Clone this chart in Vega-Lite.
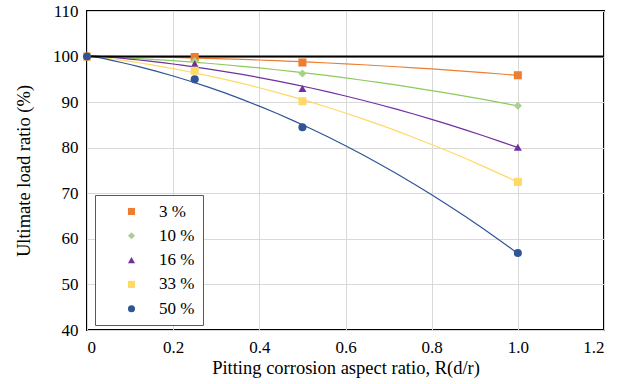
{
  "$schema": "https://vega.github.io/schema/vega-lite/v6.json",
  "width": 517,
  "height": 319,
  "autosize": "none",
  "padding": {"left": 87, "top": 11, "right": 20, "bottom": 54},
  "background": "white",
  "config": {
    "font": "Liberation Serif",
    "view": {"stroke": "#000000", "strokeWidth": 2},
    "axis": {
      "labelFontSize": 17,
      "labelColor": "#000000",
      "titleFontSize": 18.5,
      "titleFontWeight": "normal",
      "titleColor": "#000000",
      "domain": false,
      "ticks": false,
      "gridColor": "#d9d9d9",
      "gridWidth": 1
    }
  },
  "data": {
    "values": [
      {"series": "3 %", "aspect": 0, "ratio": 100},
      {"series": "3 %", "aspect": 0.25, "ratio": 99.9},
      {"series": "3 %", "aspect": 0.5, "ratio": 98.7},
      {"series": "3 %", "aspect": 1.0, "ratio": 95.9},
      {"series": "10 %", "aspect": 0, "ratio": 100},
      {"series": "10 %", "aspect": 0.25, "ratio": 99.0},
      {"series": "10 %", "aspect": 0.5, "ratio": 96.3},
      {"series": "10 %", "aspect": 1.0, "ratio": 89.2},
      {"series": "16 %", "aspect": 0, "ratio": 100},
      {"series": "16 %", "aspect": 0.25, "ratio": 98.4},
      {"series": "16 %", "aspect": 0.5, "ratio": 93.0},
      {"series": "16 %", "aspect": 1.0, "ratio": 80.1},
      {"series": "33 %", "aspect": 0, "ratio": 100},
      {"series": "33 %", "aspect": 0.25, "ratio": 96.9},
      {"series": "33 %", "aspect": 0.5, "ratio": 90.2},
      {"series": "33 %", "aspect": 1.0, "ratio": 72.5},
      {"series": "50 %", "aspect": 0, "ratio": 100},
      {"series": "50 %", "aspect": 0.25, "ratio": 95.0},
      {"series": "50 %", "aspect": 0.5, "ratio": 84.5},
      {"series": "50 %", "aspect": 1.0, "ratio": 56.9}
    ]
  },
  "layer": [
    {
      "transform": [
        {"regression": "ratio", "on": "aspect", "groupby": ["series"], "method": "poly", "order": 2}
      ],
      "mark": {"type": "line", "strokeWidth": 1.2},
      "encoding": {
        "x": {"field": "aspect", "type": "quantitative"},
        "y": {"field": "ratio", "type": "quantitative"},
        "stroke": {
          "field": "series",
          "type": "nominal",
          "legend": null,
          "scale": {
            "domain": ["10 %", "16 %", "3 %", "33 %", "50 %"],
            "range": ["#8CCB5A", "#7030A0", "#ED7D31", "#FFD966", "#2F5597"]
          }
        }
      }
    },
    {
      "data": {"values": [{"level": 100}]},
      "mark": {"type": "rule", "color": "#000000", "strokeWidth": 2},
      "encoding": {
        "y": {"field": "level", "type": "quantitative"}
      }
    },
    {
      "mark": {"type": "point", "filled": true, "opacity": 1, "size": 65},
      "encoding": {
        "x": {
          "field": "aspect",
          "type": "quantitative",
          "scale": {"domain": [0, 1.2], "nice": false, "zero": false},
          "axis": {
            "title": "Pitting corrosion aspect ratio, R(d/r)",
            "values": [0, 0.2, 0.4, 0.6, 0.8, 1.0, 1.2],
            "labelExpr": "datum.value == 0 ? '0' : format(datum.value, '.1f')",
            "labelPadding": 9,
            "titlePadding": 3
          }
        },
        "y": {
          "field": "ratio",
          "type": "quantitative",
          "scale": {"domain": [40, 110], "nice": false, "zero": false},
          "axis": {
            "title": "Ultimate load ratio (%)",
            "values": [40, 50, 60, 70, 80, 90, 100, 110],
            "labelPadding": 9,
            "titlePadding": 19
          }
        },
        "color": {
          "field": "series",
          "type": "nominal",
          "scale": {
            "domain": ["3 %", "10 %", "16 %", "33 %", "50 %"],
            "range": ["#ED7D31", "#A9D18E", "#7030A0", "#FFD966", "#2F5597"]
          },
          "legend": {
            "title": null,
            "orient": "none",
            "legendX": 8,
            "legendY": 184,
            "padding": 8,
            "rowPadding": 6.3,
            "fillColor": "#ffffff",
            "strokeColor": "#595959",
            "symbolSize": 50,
            "symbolOffset": 20,
            "labelOffset": 19,
            "labelFontSize": 17,
            "labelColor": "#000000",
            "labelExpr": "datum.label + '\u00a0\u00a0\u00a0\u00a0\u00a0\u00a0\u00a0\u00a0\u00a0'"
          }
        },
        "shape": {
          "field": "series",
          "type": "nominal",
          "scale": {
            "domain": ["3 %", "10 %", "16 %", "33 %", "50 %"],
            "range": ["square", "diamond", "triangle-up", "square", "circle"]
          },
          "legend": {
            "title": null,
            "orient": "none",
            "legendX": 8,
            "legendY": 184,
            "padding": 8,
            "rowPadding": 6.3,
            "fillColor": "#ffffff",
            "strokeColor": "#595959",
            "symbolSize": 50,
            "symbolOffset": 20,
            "labelOffset": 19,
            "labelFontSize": 17,
            "labelColor": "#000000",
            "labelExpr": "datum.label + '\u00a0\u00a0\u00a0\u00a0\u00a0\u00a0\u00a0\u00a0\u00a0'"
          }
        }
      }
    }
  ]
}
